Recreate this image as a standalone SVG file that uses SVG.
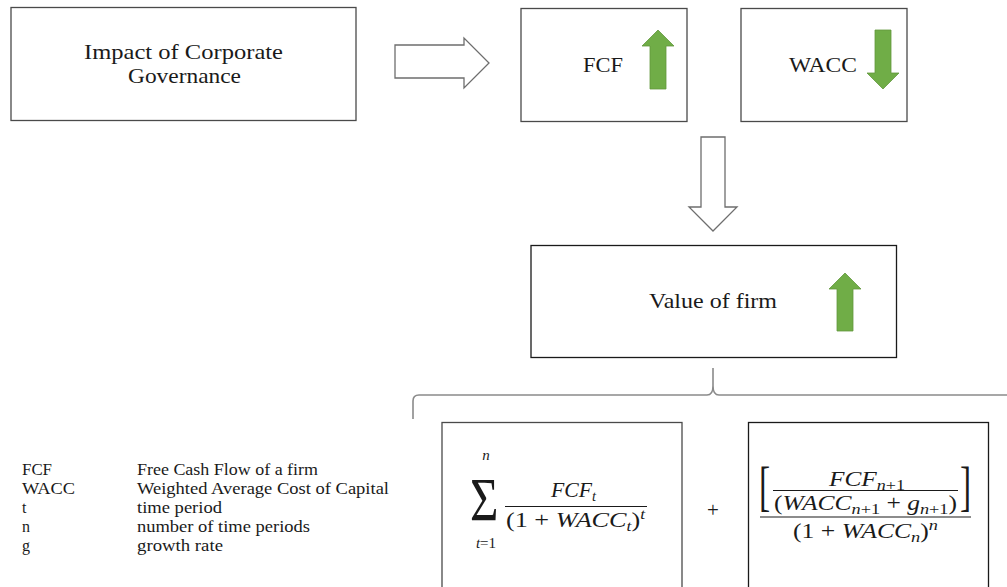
<svg xmlns="http://www.w3.org/2000/svg" width="1007" height="587" viewBox="0 0 1007 587">
  <style>
    .box { fill: #ffffff; stroke: #4a4a4a; stroke-width: 1.3; }
    .box-dark { fill: #ffffff; stroke: #1a1a1a; stroke-width: 1.3; }
    .hollow { fill: #ffffff; stroke: #6e6e6e; stroke-width: 1.3; stroke-linejoin: miter; }
    .green { fill: #70AD47; stroke: #62973e; stroke-width: 0.8; }
    .brace { fill: none; stroke: #8a8a8a; stroke-width: 1.6; }
    .label { font-family: "Liberation Serif", "Times New Roman", serif; font-size: 22px; fill: #1a1a1a; }
    .legend { font-family: "Liberation Serif", "Times New Roman", serif; font-size: 16px; fill: #1a1a1a; }
    .math { font-family: "Liberation Serif", "Times New Roman", serif; fill: #1a1a1a; }
    .mi { font-style: italic; }
    .rm { font-style: normal; }
    .fracbar { stroke: #1a1a1a; stroke-width: 1.2; }
  </style>

  <!-- connectors: hollow block arrows and the brace under the value box -->
  <g id="connectors">
    <polygon class="hollow" points="395,45 464,45 464,38 489,63 464,88 464,78 395,78"/>
    <polygon class="hollow" points="701,137 725,137 725,207 737,207 713,231 689,207 701,207"/>
    <path class="brace" d="M413,419 V401 Q413,395 419,395 H707 Q713,395 713,386 V368 V386 Q713,395 719,395 H1010"/>
  </g>

  <g id="node-governance">
    <rect class="box" x="11" y="7.5" width="345" height="113"/>
    <text class="label" x="183.5" y="59" text-anchor="middle" textLength="199" lengthAdjust="spacingAndGlyphs">Impact of Corporate</text>
    <text class="label" x="184.5" y="83" text-anchor="middle" textLength="113" lengthAdjust="spacingAndGlyphs">Governance</text>
  </g>

  <g id="node-fcf">
    <rect class="box" x="521" y="8.5" width="166" height="113"/>
    <text class="label" x="583" y="72" textLength="40" lengthAdjust="spacingAndGlyphs">FCF</text>
    <polygon class="green" points="658,30 674,46 666,46 666,89 650,89 650,46 642,46"/>
  </g>

  <g id="node-wacc">
    <rect class="box" x="741" y="8.5" width="166" height="113"/>
    <text class="label" x="789" y="72" textLength="68" lengthAdjust="spacingAndGlyphs">WACC</text>
    <polygon class="green" points="875,30 891,30 891,73 899,73 883,89 867,73 875,73"/>
  </g>

  <g id="node-value">
    <rect class="box-dark" x="531" y="245.5" width="365.5" height="112"/>
    <text class="label" x="649" y="308" textLength="128" lengthAdjust="spacingAndGlyphs">Value of firm</text>
    <polygon class="green" points="845,273 861,289 853,289 853,331 837,331 837,289 829,289"/>
  </g>

  <!-- explicit-period sum of discounted free cash flows -->
  <g id="node-formula-sum">
    <rect class="box" x="442" y="422.5" width="240" height="180"/>
    <text class="math mi" x="486" y="460" font-size="15" text-anchor="middle">n</text>
    <text class="math rm" transform="translate(470,520) scale(0.74,0.93)" font-size="66">Σ</text>
    <text class="math" x="486" y="548" font-size="15" text-anchor="middle"><tspan class="mi">t</tspan><tspan class="rm">=1</tspan></text>
    <text class="math mi" x="551" y="497" font-size="21" textLength="45" lengthAdjust="spacingAndGlyphs">FCF<tspan font-size="14" dy="4">t</tspan></text>
    <line class="fracbar" x1="505" y1="506.5" x2="647" y2="506.5"/>
    <text class="math" x="506" y="527" font-size="21" textLength="139" lengthAdjust="spacingAndGlyphs"><tspan class="rm">(1 + </tspan><tspan class="mi">WACC</tspan><tspan class="mi" font-size="14" dy="4">t</tspan><tspan class="rm" dy="-4">)</tspan><tspan class="mi" font-size="14" dy="-8">t</tspan></text>
  </g>

  <text id="plus" class="math rm" x="713" y="517" font-size="21" text-anchor="middle">+</text>

  <!-- discounted terminal value -->
  <g id="node-formula-terminal">
    <rect class="box-dark" x="748.5" y="422.5" width="240" height="180"/>
    <text class="math rm" transform="translate(759,505) scale(0.62,1)" font-size="54">[</text>
    <text class="math mi" x="829" y="486" font-size="21" textLength="76" lengthAdjust="spacingAndGlyphs">FCF<tspan font-size="15" dy="4">n</tspan><tspan class="rm" font-size="15">+1</tspan></text>
    <line class="fracbar" x1="773" y1="490.5" x2="958" y2="490.5"/>
    <text class="math" x="774" y="510" font-size="21" textLength="183" lengthAdjust="spacingAndGlyphs"><tspan class="rm">(</tspan><tspan class="mi">WACC</tspan><tspan class="mi" font-size="15" dy="4">n</tspan><tspan class="rm" font-size="15">+1</tspan><tspan class="rm" dy="-4"> +  </tspan><tspan class="mi">g</tspan><tspan class="mi" font-size="15" dy="4">n</tspan><tspan class="rm" font-size="15">+1</tspan><tspan class="rm" dy="-4">)</tspan></text>
    <text class="math rm" transform="translate(960,505) scale(0.62,1)" font-size="54">]</text>
    <line class="fracbar" x1="760" y1="517" x2="971" y2="517"/>
    <text class="math" x="793" y="538" font-size="21" textLength="145" lengthAdjust="spacingAndGlyphs"><tspan class="rm">(1 + </tspan><tspan class="mi">WACC</tspan><tspan class="mi" font-size="15" dy="4">n</tspan><tspan class="rm" dy="-4">)</tspan><tspan class="mi" font-size="15" dy="-8">n</tspan></text>
  </g>

  <g id="legend">
    <text class="legend" x="22" y="475" textLength="30" lengthAdjust="spacingAndGlyphs">FCF</text>
    <text class="legend" x="137" y="475" textLength="181" lengthAdjust="spacingAndGlyphs">Free Cash Flow of a firm</text>
    <text class="legend" x="22" y="494" textLength="53" lengthAdjust="spacingAndGlyphs">WACC</text>
    <text class="legend" x="137" y="494" textLength="252" lengthAdjust="spacingAndGlyphs">Weighted Average Cost of Capital</text>
    <text class="legend" x="22" y="513">t</text>
    <text class="legend" x="137" y="513" textLength="85" lengthAdjust="spacingAndGlyphs">time period</text>
    <text class="legend" x="22" y="532">n</text>
    <text class="legend" x="137" y="532" textLength="173" lengthAdjust="spacingAndGlyphs">number of time periods</text>
    <text class="legend" x="22" y="551">g</text>
    <text class="legend" x="137" y="551" textLength="86" lengthAdjust="spacingAndGlyphs">growth rate</text>
  </g>
</svg>
